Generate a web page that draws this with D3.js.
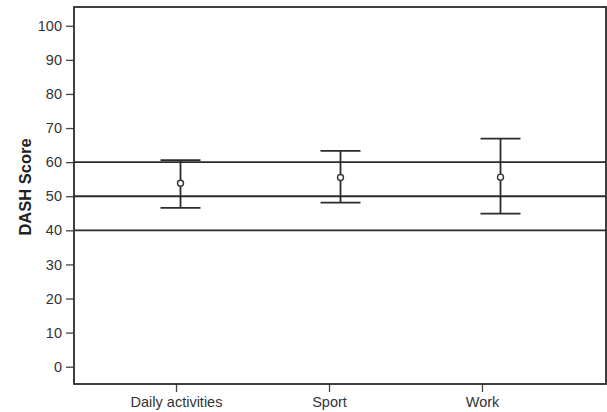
<!DOCTYPE html>
<html lang="en">
<head>
<meta charset="UTF-8">
<title>DASH Score by Category</title>
<style>
    body {
        margin: 0;
        background: #fff;
    }
    svg {
        display: block;
        font-family: 'Liberation Sans', Arial, sans-serif;
    }
    .axis .tick text {
        font-size: 14.5px;
        fill: #333;
    }
    .axis .tick line {
        stroke: #444;
        stroke-width: 1.3px;
    }
    .ref-line, .err, .frame {
        stroke: #2b2b2b;
        fill: none;
    }
</style>
</head>
<body>
<div id="chart"></div>
<script src="https://d3js.org/d3.v7.min.js"></script>
<script>
    // values
    const categories = ["Daily activities", "Sport", "Work"];
    const means = [53.8, 55.5, 55.6];
    const upper = [60.6, 63.3, 66.9];
    const lower = [46.6, 48.1, 44.9];
    const refLines = [40, 50, 60];
    const yTicks = [0, 10, 20, 30, 40, 50, 60, 70, 80, 90, 100];

    const width = 607, height = 412;
    const margin = { top: 7, right: 1, bottom: 28, left: 74 };
    const innerW = width - margin.left - margin.right;
    const innerH = height - margin.top - margin.bottom;

    const svg = d3.select("#chart").append("svg")
        .attr("width", width)
        .attr("height", height);

    const g = svg.append("g")
        .attr("transform", `translate(${margin.left},${margin.top})`);

    const y = d3.scaleLinear().domain([-5.07, 105.5]).range([innerH, 0]);

    // tick positions and bar positions don't line up in the original
    const xTick = d3.scalePoint().domain(categories).range([102, 408]);
    const xBar = d3.scalePoint().domain(categories).range([106.5, 426.5]);

    // y axis
    g.append("g")
        .attr("class", "axis")
        .call(d3.axisLeft(y).tickValues(yTicks).tickSize(8).tickPadding(4))
        .call(a => a.select(".domain").remove());

    // x axis
    g.append("g")
        .attr("class", "axis")
        .attr("transform", `translate(0,${innerH})`)
        .call(d3.axisBottom(xTick).tickSize(8).tickPadding(5))
        .call(a => a.select(".domain").remove())
        .call(a => a.selectAll(".tick text").attr("dy", "0.66em"));

    // reference lines
    g.selectAll(".ref-line")
        .data(refLines)
        .enter().append("line")
        .attr("class", "ref-line")
        .attr("x1", 0)
        .attr("x2", innerW)
        .attr("y1", d => y(d))
        .attr("y2", d => y(d))
        .attr("stroke-width", 1.8);

    // error bars
    const capW = 20;
    const bars = g.selectAll(".bar")
        .data(categories)
        .enter().append("g")
        .attr("class", "bar");

    bars.append("line")
        .attr("class", "err")
        .attr("x1", d => xBar(d))
        .attr("x2", d => xBar(d))
        .attr("y1", (d, i) => y(upper[i]))
        .attr("y2", (d, i) => y(lower[i]))
        .attr("stroke-width", 1.8);

    bars.append("line")
        .attr("class", "err")
        .attr("x1", d => xBar(d) - capW)
        .attr("x2", d => xBar(d) + capW)
        .attr("y1", (d, i) => y(upper[i]))
        .attr("y2", (d, i) => y(upper[i]))
        .attr("stroke-width", 1.8);

    bars.append("line")
        .attr("class", "err")
        .attr("x1", d => xBar(d) - capW)
        .attr("x2", d => xBar(d) + capW)
        .attr("y1", (d, i) => y(lower[i]))
        .attr("y2", (d, i) => y(lower[i]))
        .attr("stroke-width", 1.8);

    bars.append("circle")
        .attr("cx", d => xBar(d))
        .attr("cy", (d, i) => y(means[i]))
        .attr("r", 3)
        .attr("fill", "#fff")
        .attr("stroke", "#333")
        .attr("stroke-width", 1.4);

    // frame
    g.append("rect")
        .attr("class", "frame")
        .attr("x", 0)
        .attr("y", 0)
        .attr("width", innerW)
        .attr("height", innerH)
        .attr("stroke", "#333")
        .attr("stroke-width", 1.8);

    // y title
    svg.append("text")
        .attr("transform", `translate(31,187) rotate(-90)`)
        .attr("text-anchor", "middle")
        .attr("font-size", "16.5px")
        .attr("font-weight", "bold")
        .attr("fill", "#222")
        .text("DASH Score");
</script>
</body>
</html>
